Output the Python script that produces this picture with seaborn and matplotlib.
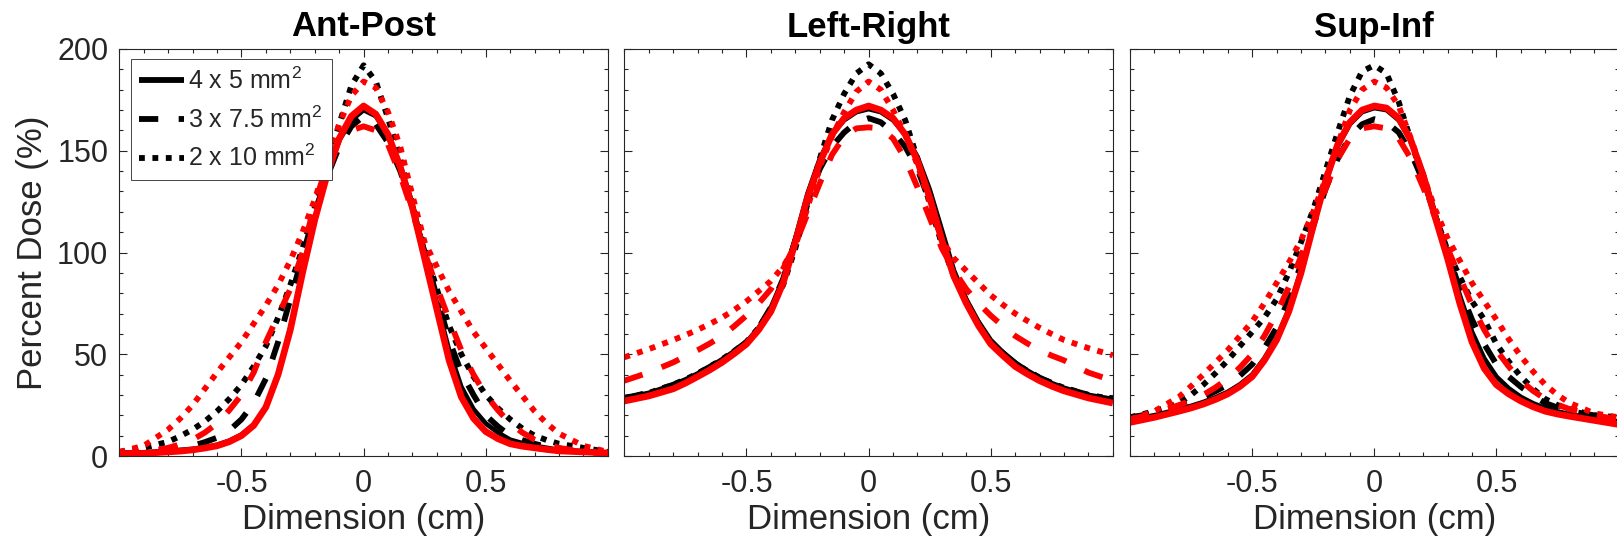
import matplotlib
matplotlib.use("Agg")
import matplotlib.pyplot as plt
import seaborn as sns
from matplotlib.lines import Line2D
from matplotlib.ticker import MultipleLocator

# ---------------- data ----------------
X_CM = [-1.0, -0.9, -0.8, -0.75, -0.7, -0.65, -0.6, -0.55, -0.5, -0.45, -0.4, -0.35, -0.3, -0.25, -0.2,
        -0.15, -0.1, -0.05, 0.0, 0.05, 0.1, 0.15, 0.2, 0.25, 0.3, 0.35, 0.4, 0.45, 0.5,
        0.55, 0.6, 0.65, 0.7, 0.75, 0.8, 0.9, 1.0]

# Ant-Post
ap_k_solid = [1.5, 1.8, 2.5, 3, 3.5, 4.3, 5.5, 7.5, 10.5, 15.5, 24, 40, 63, 90, 116, 138, 155, 165,
              170, 167, 158, 143, 124, 100, 75, 52, 34, 23, 16, 11.5, 8, 6.3, 5, 4, 3, 2, 1.5]
ap_k_dashed = [1, 2, 3, 4, 5, 6.8, 9, 12.5, 18, 26, 38, 56, 77, 98, 120, 137, 152, 162,
               167, 163, 154, 140, 122, 100, 78, 57, 41, 30, 20, 14.5, 10, 7.8, 6, 4.5, 3, 2, 1]
ap_k_dotted = [2, 4, 7, 9.8, 13, 17, 22, 28, 35, 44, 54, 68, 84, 102, 122, 142, 163, 182,
               192, 184, 166, 146, 124, 102, 82, 64, 50, 39, 30, 23.5, 18, 13.5, 10, 7.8, 6, 4, 2]
ap_r_solid = [1, 1.3, 2, 2.4, 3, 3.9, 5, 7, 10, 15, 24, 40, 62, 90, 116, 138, 156, 167,
              172, 168, 158, 142, 122, 97, 72, 47, 29, 18.5, 12, 8.5, 6, 4.8, 4, 3.2, 2.5, 2, 1.5]
ap_r_dashed = [1, 2, 4, 5.8, 8, 11.5, 16, 22.5, 30, 41, 56, 69, 82, 100, 124, 143, 155, 160,
               162, 160, 153, 138, 120, 100, 83, 67, 52, 40, 30, 22.5, 16, 11.5, 8, 5.8, 4, 2, 1]
ap_r_dotted = [2, 5, 13, 18.5, 25, 33, 41, 48.5, 56, 65, 74, 84, 96, 110, 126, 145, 163, 177,
               184, 181, 169, 152, 128, 105, 93, 81, 71, 61, 53, 45, 37, 29.5, 22, 16, 11, 5, 2]

# Left-Right
lr_k_solid = [28.5, 31, 35, 37.6, 40.5, 43.8, 47.5, 51.5, 56, 63, 73, 87, 107, 129, 146, 158, 165, 169,
              170.5, 169, 165, 158, 147, 131, 111, 91, 77, 66, 57, 51, 46, 42, 38.5, 35.8, 33.5, 30, 28]
lr_k_dashed = [28.5, 31, 35, 37.6, 40.5, 43.8, 47.5, 51.5, 56, 63, 73, 87, 106, 125, 141, 152, 159, 164,
               166, 164, 159, 152, 141, 125, 106, 89, 76, 65, 56, 50.5, 45.5, 41.8, 38.5, 35.8, 33.5, 30, 28]
lr_k_dotted = [28.5, 31, 35, 37.6, 40.5, 43.8, 47.5, 51.5, 56, 63, 72, 84, 102, 124, 146, 165, 178, 188,
               192.5, 188, 178, 165, 146, 124, 104, 88, 76, 65, 56, 50.5, 45.5, 41.8, 38.5, 35.8, 33.5, 30, 28]
lr_r_solid = [27, 29.5, 33, 35.8, 39, 42.3, 46, 50.3, 55, 62, 71, 85, 105, 127, 144, 158, 166, 170,
              172, 170, 166, 158, 145, 127, 106, 88, 75, 64, 55, 49.3, 44, 40.3, 37, 34.3, 32, 28.5, 26]
lr_r_dashed = [37, 41, 46, 49, 52, 55.3, 59, 63.8, 69, 75, 82, 92, 104, 119, 134, 148, 157, 161,
               161.5, 161, 156, 146, 132, 117, 102, 91, 82, 75, 69, 63.8, 59, 55.3, 52, 49.3, 47, 41, 37]
lr_r_dotted = [48.5, 52.5, 57, 59.4, 62, 64.9, 68, 71.8, 76, 81, 86, 93, 103, 122, 142, 157, 169, 179,
               184, 180, 170, 158, 143, 125, 106, 97, 91, 85, 79, 74.3, 70, 66.4, 63, 59.9, 57, 53, 49.5]

# Sup-Inf
si_k_solid = [18, 20, 23, 24.6, 26.5, 28.8, 31.5, 35.2, 40, 48, 58, 72, 91, 113, 134, 152, 163, 169,
              171, 170, 165, 155, 139, 119, 99, 79, 61, 48, 39, 33.3, 29, 25.9, 23.5, 21.9, 20.5, 18.5, 17]
si_k_dashed = [19, 21, 24.5, 26.6, 29, 31.8, 35, 39.5, 45, 53, 63, 77, 94, 113, 131, 146, 157, 163,
               165.5, 164, 159, 149, 135, 118, 100, 82, 67, 55, 45, 39, 34, 29.6, 26, 23.8, 22, 20, 18.5]
si_k_dotted = [19, 22, 26, 30, 35, 40.7, 47, 54, 61, 68, 77, 90, 105, 121, 140, 159, 177, 189,
               192, 188, 174, 155, 136, 118, 101, 88, 76, 67, 55, 46.5, 39, 33, 28, 25, 23, 20, 19]
si_r_solid = [16.5, 19, 22, 23.6, 25.5, 27.8, 30.5, 34.2, 39, 47, 57, 71, 90, 113, 135, 153, 164, 170,
              172, 171, 166, 155, 138, 117, 97, 75, 56, 43, 35, 30.5, 27, 24.2, 22, 20.6, 19.5, 17.5, 15.5]
si_r_dashed = [18, 21, 25, 27.3, 30, 33.7, 38, 43.5, 50, 59, 70, 83, 98, 115, 131, 146, 156, 161,
               162, 161, 156, 146, 132, 117, 102, 88, 74, 62, 52, 44, 37, 32, 28, 25.2, 23, 20, 18]
si_r_dotted = [18, 22, 29, 34.3, 40, 46, 52, 59, 66, 75, 85, 95, 106, 120, 136, 153, 170, 180,
               184, 181, 172, 156, 138, 121, 107, 96, 85, 76, 67, 57.5, 49, 41.5, 35, 30, 26, 21, 19]

PANEL_TITLES = ["Ant-Post", "Left-Right", "Sup-Inf"]
SIZE_LABELS = ["4 x 5 mm$^2$", "3 x 7.5 mm$^2$", "2 x 10 mm$^2$"]
X_TICKS = [-0.5, 0, 0.5]
X_TICK_LABELS = ["-0.5", "0", "0.5"]
Y_TICKS = [0, 50, 100, 150, 200]
Y_TICK_LABELS = ["0", "50", "100", "150", "200"]
X_LABEL = "Dimension (cm)"
Y_LABEL = "Percent Dose (%)"

panels = [
    (ap_k_solid, ap_k_dashed, ap_k_dotted, ap_r_solid, ap_r_dashed, ap_r_dotted),
    (lr_k_solid, lr_k_dashed, lr_k_dotted, lr_r_solid, lr_r_dashed, lr_r_dotted),
    (si_k_solid, si_k_dashed, si_k_dotted, si_r_solid, si_r_dashed, si_r_dotted),
]

# ---------------- style ----------------
sns.set_theme(style="ticks")
plt.rcParams["font.family"] = ["Liberation Sans", "DejaVu Sans"]
plt.rcParams["mathtext.fontset"] = "custom"
plt.rcParams["mathtext.rm"] = "Liberation Sans"

DASHED = (0, (3.3, 3.5))
DOTTED = (0, (1.0, 1.3))
STYLES = ["-", DASHED, DOTTED]
AX_COL = "#262626"

W, H = 1617, 551
fig = plt.figure(figsize=(W / 100, H / 100), dpi=100)
lefts = [119.3, 624.3, 1130.0]
ax_w = 488.6
ax_bottom = 456.0
ax_top = 49.0

for i, curves in enumerate(panels):
    ax = fig.add_axes([lefts[i] / W, 1 - ax_bottom / H, ax_w / W, (ax_bottom - ax_top) / H])
    k_curves = curves[:3]
    r_curves = curves[3:]
    for j, vals in enumerate(k_curves):
        sns.lineplot(x=X_CM, y=vals, ax=ax, color="black",
                     linewidth=3.4 if j == 0 else 4.2, linestyle=STYLES[j],
                     dash_capstyle="butt", solid_capstyle="butt", sort=False, legend=False)
    for j, vals in enumerate(r_curves):
        sns.lineplot(x=X_CM, y=vals, ax=ax, color="#ff0000",
                     linewidth=4.8 if j == 0 else 4.2, linestyle=STYLES[j],
                     dash_capstyle="butt", solid_capstyle="butt", sort=False, legend=False)

    ax.set_xlim(-1, 1)
    ax.set_ylim(0, 200)
    ax.set_xticks(X_TICKS)
    ax.set_xticklabels(X_TICK_LABELS)
    ax.set_yticks(Y_TICKS)
    ax.xaxis.set_minor_locator(MultipleLocator(0.1))
    ax.yaxis.set_minor_locator(MultipleLocator(10))
    ax.tick_params(which="both", direction="in", top=True, right=True,
                   color=AX_COL, labelcolor=AX_COL, labelsize=22, width=0.8)
    ax.tick_params(which="major", length=6)
    ax.tick_params(which="minor", length=3)
    ax.tick_params(axis="x", which="major", pad=9)
    ax.tick_params(axis="y", which="major", pad=8)
    if i == 0:
        ax.set_yticklabels(Y_TICK_LABELS)
        ax.set_ylabel(Y_LABEL, fontsize=25, color=AX_COL, labelpad=6)
    else:
        ax.set_yticklabels([])
        ax.set_ylabel("")
    ax.set_xlabel(X_LABEL, fontsize=25, color=AX_COL, labelpad=3)
    ax.set_title(PANEL_TITLES[i], fontsize=25, fontweight="bold", color="black", pad=9)
    for sp in ax.spines.values():
        sp.set_color(AX_COL)
        sp.set_linewidth(0.8)

    if i == 0:
        handles = [Line2D([0], [0], color="black", linewidth=4.2, linestyle=s,
                          dash_capstyle="butt", solid_capstyle="butt") for s in STYLES]
        leg = ax.legend(handles, SIZE_LABELS, loc="upper left",
                        bbox_to_anchor=((130.5 - 119.3) / ax_w, 1 - (58.5 - 49) / 407),
                        borderaxespad=0, fontsize=18, frameon=True, fancybox=False,
                        handlelength=1.8, handletextpad=0.15, labelspacing=0.5,
                        borderpad=0.35, framealpha=1)
        leg.get_frame().set_edgecolor(AX_COL)
        leg.get_frame().set_linewidth(0.6)
        for t in leg.get_texts():
            t.set_color(AX_COL)

fig.savefig("out.png", dpi=100)
